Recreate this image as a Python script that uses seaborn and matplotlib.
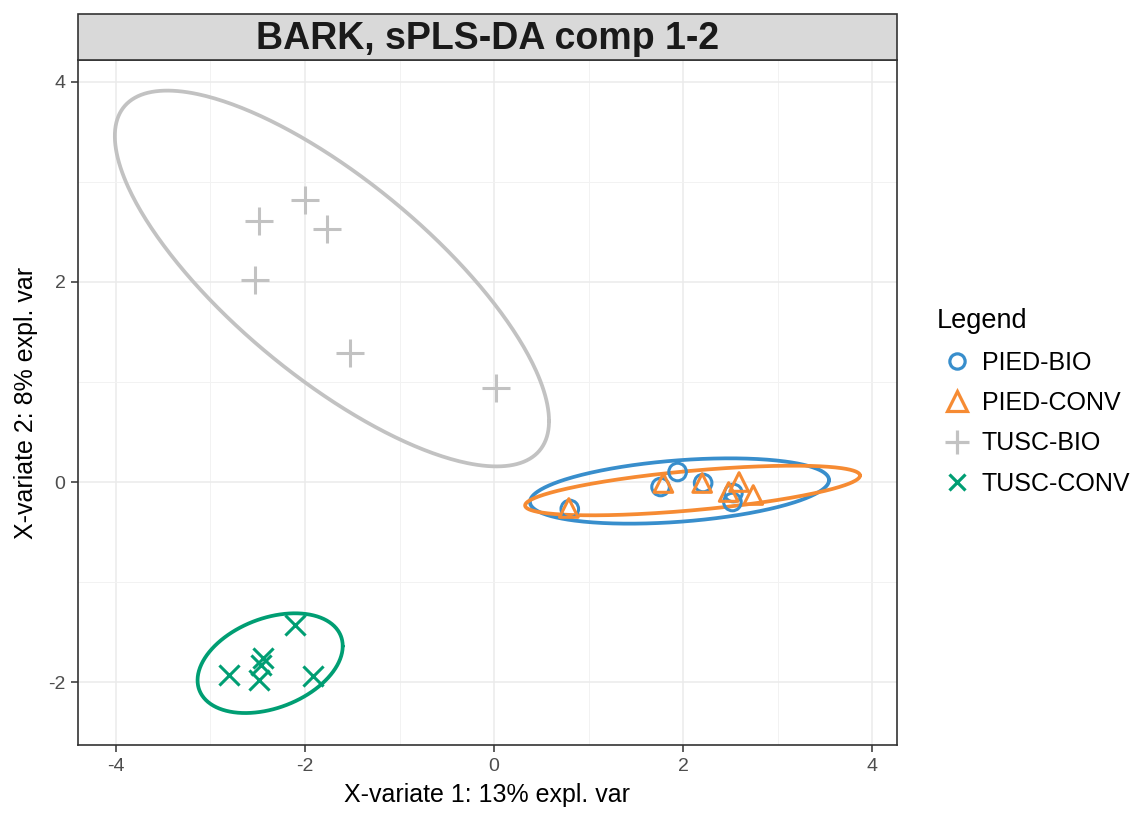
import numpy as np
import pandas as pd
import matplotlib
matplotlib.use("Agg")
import matplotlib.pyplot as plt
from matplotlib.lines import Line2D
from matplotlib.patches import Rectangle
import seaborn as sns

# ---- data ----
groups = ["PIED-BIO", "PIED-CONV", "TUSC-BIO", "TUSC-CONV"]
colors = ["#388ECC", "#F68B33", "#C2C2C2", "#009E73"]
markers = ["o", "^", "+", "x"]

pied_bio_x = [0.80, 1.76, 1.94, 2.21, 2.52, 2.53]
pied_bio_y = [-0.27, -0.05, 0.10, -0.01, -0.20, -0.11]
pied_conv_x = [0.79, 1.79, 2.20, 2.48, 2.59, 2.74]
pied_conv_y = [-0.26, -0.01, -0.01, -0.10, 0.00, -0.13]
tusc_bio_x = [-2.49, -2.00, -1.77, -2.53, -1.52, 0.02]
tusc_bio_y = [2.61, 2.82, 2.53, 2.02, 1.29, 0.94]
tusc_conv_x = [-2.11, -2.80, -2.49, -2.44, -2.46, -1.91]
tusc_conv_y = [-1.43, -1.93, -1.98, -1.76, -1.83, -1.94]

xs = [pied_bio_x, pied_conv_x, tusc_bio_x, tusc_conv_x]
ys = [pied_bio_y, pied_conv_y, tusc_bio_y, tusc_conv_y]

title = "BARK, sPLS-DA comp 1-2"
xlabel = "X-variate 1: 13% expl. var"
ylabel = "X-variate 2: 8% expl. var"
xticks = [-4, -2, 0, 2, 4]
yticks = [-2, 0, 2, 4]

df = pd.concat([pd.DataFrame({"x": x, "y": y, "group": g})
                for x, y, g in zip(xs, ys, groups)], ignore_index=True)

# ---- figure ----
sns.set_theme(style="white")
plt.rcParams["font.family"] = ["Liberation Sans", "DejaVu Sans"]
plt.rcParams["axes.unicode_minus"] = False
plt.rcParams["text.color"] = "black"

fig = plt.figure(figsize=(11.35, 8.13), dpi=100)
ax = fig.add_axes([78 / 1135, 1 - 745 / 813, (897 - 78) / 1135, (745 - 60) / 813])

# grid
ax.set_xlim(-4.40, 4.26)
ax.set_ylim(-2.63, 4.22)
ax.set_xticks(xticks)
ax.set_yticks(yticks)
ax.set_xticks([-3, -1, 1, 3], minor=True)
ax.set_yticks([-1, 1, 3], minor=True)
ax.grid(which="major", color="#EBEBEB", linewidth=1.1, zorder=0)
ax.grid(which="minor", color="#F2F2F2", linewidth=0.7, zorder=0)
ax.set_axisbelow(True)

# ellipses (95% confidence from group covariance)
t = np.sqrt(5.991464547)
theta = np.linspace(0, 2 * np.pi, 400)
circle = np.vstack([np.cos(theta), np.sin(theta)])
for g, c in zip(groups, colors):
    sub = df[df.group == g]
    pts = sub[["x", "y"]].to_numpy()
    mu = pts.mean(axis=0)
    cov = np.cov(pts.T)
    L = np.linalg.cholesky(cov)
    e = mu[:, None] + t * (L @ circle)
    sns.lineplot(x=e[0], y=e[1], sort=False, estimator=None, color=c,
                 linewidth=2.7, ax=ax, zorder=2)

# points
sizes = {"o": 160, "^": 180, "+": 420, "x": 210}
for g, c, m in zip(groups, colors, markers):
    sub = df[df.group == g]
    sns.scatterplot(data=sub, x="x", y="y", marker=m, s=sizes[m], ax=ax,
                    color=c, linewidth=2.2, zorder=3, legend=False)
    coll = ax.collections[-1]
    if m in ("o", "^"):
        coll.set_facecolor("none")
    coll.set_edgecolor(c)
    coll.set_linewidth(2.2)

for s in ax.spines.values():
    s.set_color("#333333")
    s.set_linewidth(1.2)
ax.tick_params(axis="both", which="major", length=5, width=1.1, color="#333333",
               labelsize=14, labelcolor="#4D4D4D", bottom=True, left=True, pad=4)
ax.tick_params(axis="both", which="minor", length=0)
ax.set_xlabel(xlabel, fontsize=18, color="black", labelpad=6)
ax.set_ylabel(ylabel, fontsize=18, color="black", labelpad=7)

# strip title
strip = Rectangle((78 / 1135, 1 - 60 / 813), (897 - 78) / 1135, 46 / 813,
                  transform=fig.transFigure, facecolor="#D9D9D9",
                  edgecolor="#333333", linewidth=1.2)
fig.add_artist(strip)
fig.text((78 + 897) / 2 / 1135, 1 - 39 / 813, title, ha="center", va="center",
         fontsize=27, fontweight="bold", color="#1A1A1A")

# legend
handles = []
for g, c, m in zip(groups, colors, markers):
    filled = m not in ("o", "^")
    handles.append(Line2D([0], [0], linestyle="none", marker=m, color=c,
                          markerfacecolor=c if filled else "none",
                          markeredgecolor=c, markeredgewidth=2.3,
                          markersize={"o": 11, "^": 14, "+": 17, "x": 12}[m],
                          label=g))
leg = fig.legend(handles=handles, title="Legend", loc="upper left",
                 bbox_to_anchor=(937 / 1135, 1 - 308 / 813), frameon=False,
                 fontsize=18, title_fontsize=19.5, labelspacing=0.66,
                 handletextpad=0.2, borderaxespad=0, borderpad=0,
                 handlelength=1.6, labelcolor="black")
leg.get_title().set_color("black")
leg._legend_box.align = "left"

fig.savefig("out.png", dpi=100)
